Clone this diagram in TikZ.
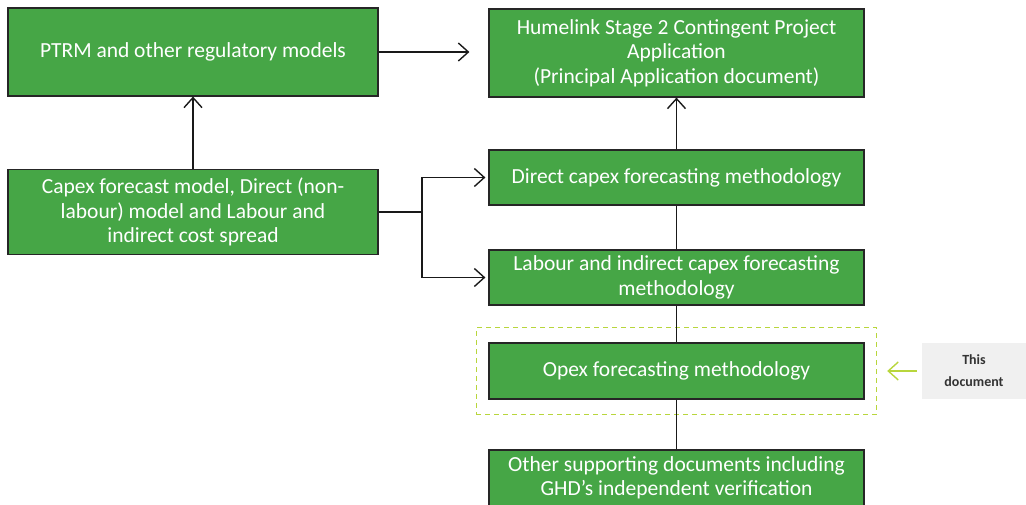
\documentclass[tikz,border=0pt]{standalone}
\usepackage{fontspec}
\setmainfont{Carlito}
\usepackage{tikz}
\usetikzlibrary{arrows.meta,positioning,calc,fit}

\definecolor{boxgreen}{RGB}{70,166,70}
\definecolor{limegreen}{RGB}{184,214,60}
\definecolor{notegray}{RGB}{240,240,240}

\begin{document}
\begin{tikzpicture}[x=1pt,y=-1pt,
    doc/.style={draw=black!85,line width=1.2pt,fill=boxgreen,text=white,align=center,
      font=\fontsize{21.5}{24.5}\selectfont,inner sep=0pt},
    wide/.style={doc,minimum width=370pt},
    narrow/.style={doc,minimum width=375pt},
    link/.style={line width=1.4pt,black!90},
    tip/.style={link,-{Straight Barb[length=10pt,width=18pt,line width=1.4pt]}}]
  \useasboundingbox (0,0) rectangle (1026,505);

  % left column
  \node[wide,minimum height=88pt] (ptrm) at (193,52) {PTRM and other regulatory models};
  \node[wide,minimum height=85pt] (capex) at (193,212)
    {Capex forecast model, Direct (non-\\labour) model and Labour and\\indirect cost spread};

  % right column
  \node[narrow,minimum height=88pt] (hume) at (676.5,53)
    {Humelink Stage 2 Contingent Project\\Application\\(Principal Application document)};
  \node[narrow,minimum height=55pt] (direct) at (676.5,177.5) {Direct capex forecasting methodology};
  \node[narrow,minimum height=55pt] (labour) at (676.5,277.5)
    {Labour and indirect capex forecasting\\methodology};
  \node[narrow,minimum height=56pt] (opex) at (676.5,371) {Opex forecasting methodology};
  \node[narrow,minimum height=56pt] (other) at (676.5,478)
    {Other supporting documents including\\GHD’s independent verification};

  % this document
  \node[draw=limegreen,dashed,dash pattern=on 5pt off 4pt,line width=1.2pt,
    fit=(opex),inner xsep=12pt,inner ysep=15pt] (frame) {};
  \node[fill=notegray,minimum width=104pt,minimum height=56pt,align=center,
    font=\fontsize{14}{22}\selectfont\bfseries,text=black!80] (note) at (974,371) {This\\document};

  % connectors
  \draw[tip,shorten >=19pt] (ptrm.east) -- (ptrm.east -| hume.west);
  \draw[tip] (capex.north) -- (ptrm.south);
  \coordinate (split) at (422,212);
  \draw[link] (capex.east) -- (split);
  \draw[tip,shorten >=3pt] (split) |- (direct.west);
  \draw[tip,shorten >=3pt] (split) |- (labour.west);
  \draw[tip] (direct.north) -- (hume.south);
  \draw[link] (direct.south) -- (labour.north);
  \draw[link] (labour.south) -- (opex.north);
  \draw[link] (opex.south) -- (other.north);
  \draw[line width=1.4pt,limegreen,-{Straight Barb[length=10pt,width=18pt,line width=1.4pt]},
    shorten <=5pt,shorten >=10pt] (note.west) -- (frame.east);
\end{tikzpicture}
\end{document}
